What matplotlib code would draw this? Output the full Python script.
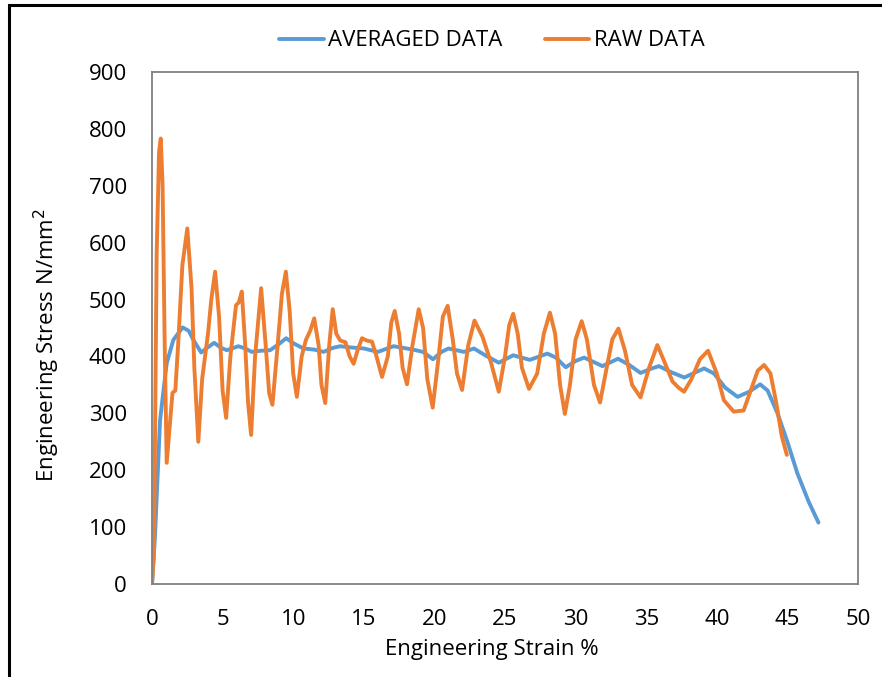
import matplotlib
matplotlib.use("Agg")
import matplotlib.pyplot as plt
from matplotlib.patches import Rectangle

plt.rcParams['font.family'] = ['Open Sans', 'DejaVu Sans']

# strain % / stress N/mm2
avg_x = [0, 0.21, 0.57, 1.04, 1.51, 2.17, 2.6, 2.93, 3.48, 3.9, 4.4, 4.9, 5.3, 6.12,
         6.6, 7.07, 7.7, 8.37, 9.0, 9.5, 10.1, 10.73, 11.5, 12.15, 12.8, 13.33, 14.0,
         15.0, 16.0, 17.1, 17.8, 18.5, 19.2, 19.9, 20.5, 21.0, 22.1, 22.8, 23.6, 24.56,
         25.58, 26.76, 28.0, 28.6, 29.3, 30.0, 30.6, 31.3, 31.9, 33.0, 33.8, 34.6, 35.3,
         35.9, 36.8, 37.7, 39.1, 39.8, 40.6, 41.47, 42.3, 43.07, 43.6, 44.3, 45.0, 45.7,
         46.5, 47.2]
avg_y = [0, 83, 288, 388, 429, 451, 445, 429, 407, 415, 424, 415, 411, 418,
         414, 408, 410, 411, 422, 432, 422, 414, 412, 408, 415, 418, 416,
         414, 408, 418, 415, 412, 408, 395, 408, 414, 408, 414, 402, 389,
         402, 394, 405, 398, 381, 392, 398, 390, 383, 396, 385, 371, 378,
         383, 372, 363, 379, 370, 345, 329, 338, 351, 340, 300, 250, 195,
         145, 108]

raw_x = [0, 0.14, 0.33, 0.5, 0.62, 0.75, 0.9, 1.04, 1.45, 1.65, 1.85, 2.15, 2.5, 2.8,
         3.0, 3.28, 3.55, 3.97, 4.2, 4.47, 4.75, 5.0, 5.25, 5.55, 5.95, 6.15, 6.36, 6.6,
         6.8, 7.02, 7.3, 7.73, 8.05, 8.3, 8.53, 8.9, 9.2, 9.48, 9.75, 10.0, 10.26, 10.6,
         10.9, 11.2, 11.49, 11.8, 12.0, 12.27, 12.55, 12.8, 13.05, 13.33, 13.7, 14.0,
         14.28, 14.55, 14.87, 15.2, 15.58, 15.9, 16.29, 16.7, 16.95, 17.19, 17.5, 17.75,
         18.06, 18.45, 18.89, 19.2, 19.5, 19.88, 20.3, 20.6, 20.94, 21.3, 21.6, 21.96,
         22.4, 22.84, 23.4, 24.0, 24.56, 25.0, 25.3, 25.58, 25.9, 26.2, 26.7, 27.28,
         27.75, 28.18, 28.55, 28.9, 29.24, 29.6, 30.0, 30.43, 30.8, 31.3, 31.73, 32.2,
         32.6, 33.03, 33.5, 34.0, 34.6, 35.2, 35.79, 36.3, 36.86, 37.3, 37.68, 38.2,
         38.8, 39.38, 40.0, 40.5, 41.2, 41.9, 42.4, 42.9, 43.35, 43.8, 44.2, 44.6, 44.96]
raw_y = [0, 54, 580, 760, 783, 700, 420, 213, 336, 340, 420, 560, 625, 520,
         380, 250, 360, 441, 500, 549, 470, 340, 292, 400, 490, 495, 514, 420,
         320, 262, 400, 520, 420, 335, 315, 420, 510, 549, 480, 370, 329, 400,
         429, 445, 467, 420, 350, 318, 420, 483, 440, 428, 425, 400,
         387, 410, 432, 428, 426, 400, 364, 400, 460, 480, 440, 380,
         351, 420, 483, 450, 360, 310, 400, 470, 489, 430, 370, 341,
         420, 463, 435, 390, 338, 400, 455, 475, 440, 380, 343, 370,
         440, 477, 440, 350, 299, 350, 430, 462, 430, 350, 319, 380,
         430, 449, 410, 350, 328, 380, 420, 390, 356, 345, 338, 360,
         395, 410, 370, 323, 303, 305, 340, 375, 385, 370, 320, 260, 227]

fig = plt.figure(figsize=(8.82, 6.77), dpi=100)
ax = fig.add_axes([152/882, 1 - 584/677, 706/882, 512/677])

ax.plot(avg_x, avg_y, color="#5B9BD5", lw=2.8, label="AVERAGED DATA",
        solid_joinstyle="round", solid_capstyle="round")
ax.plot(raw_x, raw_y, color="#ED7D31", lw=2.8, label="RAW DATA",
        solid_joinstyle="round", solid_capstyle="round")

ax.set_xlim(0, 50)
ax.set_ylim(0, 900)
ax.set_xticks(range(0, 51, 5))
ax.set_yticks(range(0, 901, 100))
ax.tick_params(length=0, labelsize=16, colors="#000000")
ax.tick_params(axis="x", pad=18)
ax.tick_params(axis="y", pad=18)
for s in ax.spines.values():
    s.set_color("#808080")
    s.set_linewidth(1.3)

fig.text(492/882, 1 - 650/677, "Engineering Strain %", fontsize=16,
         ha="center", va="center")
fig.text(47/882, 1 - 345/677, "Engineering Stress N/mm$^2$", fontsize=16,
         ha="center", va="center", rotation=90)

fig.legend(loc="center", bbox_to_anchor=(492/882, 1 - 41/677), ncol=2,
           frameon=False, fontsize=16, handlelength=2.0, handletextpad=0.2,
           columnspacing=1.9)

# black frame around the whole chart
fig.patches.append(Rectangle((9/882, -0.1), 1.2, 1.1 - 5/677, transform=fig.transFigure,
                             fill=False, edgecolor="black", lw=2.2))

fig.savefig("out.png", dpi=100)
plt.close()
